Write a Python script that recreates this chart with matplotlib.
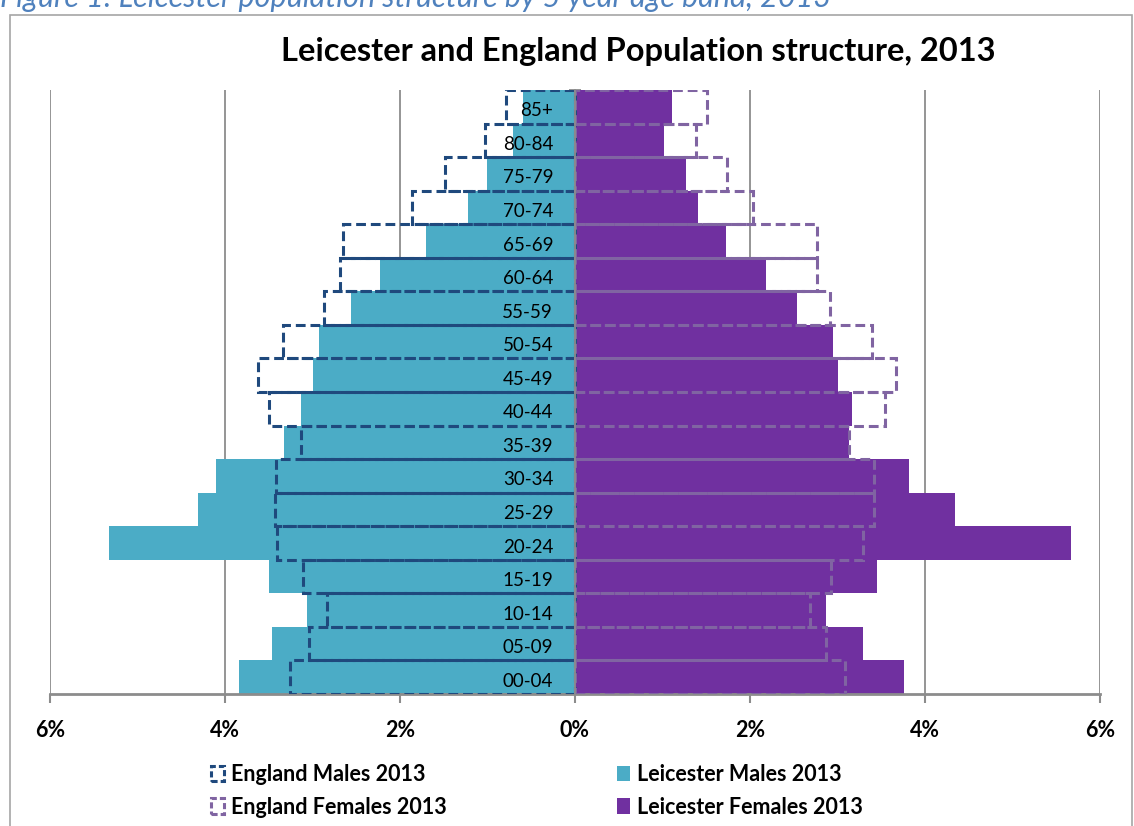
import numpy as np
import matplotlib
matplotlib.use("Agg")
import matplotlib.pyplot as plt
from matplotlib.patches import Patch, Rectangle

plt.rcParams['font.family'] = ['Lato', 'DejaVu Sans']

# age bands, youngest first (bottom of the pyramid)
ages = ['00-04', '05-09', '10-14', '15-19', '20-24', '25-29', '30-34', '35-39', '40-44',
        '45-49', '50-54', '55-59', '60-64', '65-69', '70-74', '75-79', '80-84', '85+']
# percent of total population
leic_males = [3.84, 3.46, 3.06, 3.50, 5.33, 4.31, 4.10, 3.33, 3.13,
              2.99, 2.93, 2.56, 2.23, 1.70, 1.22, 1.01, 0.71, 0.60]
leic_females = [3.76, 3.29, 2.87, 3.45, 5.67, 4.34, 3.82, 3.13, 3.17,
                3.00, 2.95, 2.54, 2.18, 1.73, 1.40, 1.27, 1.02, 1.11]
eng_males = [3.26, 3.04, 2.84, 3.11, 3.41, 3.43, 3.42, 3.13, 3.50,
             3.62, 3.34, 2.87, 2.69, 2.65, 1.86, 1.49, 1.03, 0.79]
eng_females = [3.09, 2.87, 2.69, 2.93, 3.29, 3.42, 3.42, 3.13, 3.54,
               3.67, 3.39, 2.91, 2.77, 2.77, 2.03, 1.74, 1.38, 1.51]
xticks = [-6, -4, -2, 0, 2, 4, 6]
xtick_labels = ['6%', '4%', '2%', '0%', '2%', '4%', '6%']

cyan = '#4BACC6'
purple = '#7030A0'
navy = '#1F497D'
lilac = '#8064A2'
grey = '#8C8C8C'

fig = plt.figure(figsize=(11.34, 8.26), dpi=100)
ax = fig.add_axes([50 / 1134, 1 - 694 / 826, 1050 / 1134, 604 / 826])

y = np.arange(len(ages))
dash = (0, (3.2, 1.6))

ax.barh(y, -np.array(leic_males), height=1.0, color=cyan, zorder=2)
ax.barh(y, leic_females, height=1.0, color=purple, zorder=2)
ax.barh(y, -np.array(eng_males), height=1.0, fill=False, edgecolor=navy,
        linestyle=dash, linewidth=2.2, zorder=3)
ax.barh(y, eng_females, height=1.0, fill=False, edgecolor=lilac,
        linestyle=dash, linewidth=2.2, zorder=3)

for i, lab in enumerate(ages):
    ax.text(-0.25, i - 0.12, lab, ha='right', va='center', fontsize=13.5, zorder=5)

ax.set_xlim(-6, 6)
ax.set_ylim(-0.5, len(ages) - 0.5)
ax.set_xticks(xticks)
ax.set_xticklabels(xtick_labels, fontweight='bold', fontsize=15.5)
ax.tick_params(axis='x', direction='out', length=6.5, width=1.5, color=grey, pad=12)
ax.grid(axis='x', color=grey, linewidth=1.3, zorder=0)
ax.set_axisbelow(True)

# category axis sits at 0%
ax.spines['left'].set_position(('data', 0))
ax.spines['left'].set_color(grey)
ax.spines['left'].set_linewidth(1.3)
ax.spines['left'].set_zorder(4)
ax.set_yticks(np.arange(len(ages) + 1) - 0.5)
ax.set_yticklabels([])
ax.tick_params(axis='y', direction='inout', length=8, width=1.3, color=grey)
ax.spines['right'].set_visible(False)
ax.spines['top'].set_visible(False)
ax.spines['bottom'].set_color(grey)
ax.spines['bottom'].set_linewidth(2)

fig.text(638 / 1134, 1 - 51 / 826, 'Leicester and England Population structure, 2013',
         ha='center', va='center', fontsize=23.5, fontweight='bold')

fig.text(0.0, 1 - 7 / 826, 'Figure 1: Leicester population structure by 5 year age band, 2013',
         ha='left', va='baseline', fontsize=22, style='italic', color='#4F81BD')

# chart frame
fig.patches.append(Rectangle((10 / 1134, -0.01), 1122 / 1134, 1 - 15 / 826 + 0.01,
                             transform=fig.transFigure, fill=False,
                             edgecolor='#A6A6A6', linewidth=1.2))

h_em = Patch(facecolor='none', edgecolor=navy, linestyle=(0, (2, 1)), linewidth=2.2)
h_ef = Patch(facecolor='none', edgecolor=lilac, linestyle=(0, (2, 1)), linewidth=2.2)
h_lm = Patch(facecolor=cyan, edgecolor='none')
h_lf = Patch(facecolor=purple, edgecolor='none')

leg_kw = dict(frameon=False, prop={'weight': 'bold', 'size': 15.5}, handlelength=0.6,
              handleheight=0.75, handletextpad=0.35, labelspacing=0.55, borderaxespad=0,
              borderpad=0, loc='upper left')
leg1 = fig.legend([h_em, h_ef], ['England Males 2013', 'England Females 2013'],
                  bbox_to_anchor=(211 / 1134, 1 - 764 / 826), **leg_kw)
leg2 = fig.legend([h_lm, h_lf], ['Leicester Males 2013', 'Leicester Females 2013'],
                  bbox_to_anchor=(617 / 1134, 1 - 764 / 826), **leg_kw)

fig.savefig('out.png', dpi=100)
